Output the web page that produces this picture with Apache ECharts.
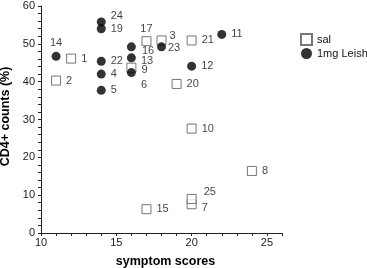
<!DOCTYPE html>
<html>
<head>
<meta charset="utf-8">
<script src="https://cdn.jsdelivr.net/npm/echarts@6/dist/echarts.min.js"></script>
<style>
  html, body { margin: 0; padding: 0; background: #fff; }
  #chart { width: 367px; height: 268px; }
</style>
</head>
<body>
<div id="chart"></div>
<script>
// saline group (open squares)
var salIds = [1, 2, 3, 7, 8, 9, 10, 15, 17, 20, 21, 25]
var salX = [12, 11, 18, 20, 24, 16, 20, 17, 17, 19, 20, 20]
var salY = [46.1, 40.3, 50.9, 7.6, 16.4, 43.7, 27.6, 6.3, 50.7, 39.4, 50.9, 9.0]

// 1mg Leish group (filled circles)
var leishIds = [4, 5, 6, 11, 12, 13, 14, 16, 19, 22, 23, 24]
var leishX = [14, 14, 16, 22, 20, 16, 11, 16, 14, 14, 18, 14]
var leishY = [42.0, 37.7, 42.4, 52.5, 44.1, 46.3, 46.7, 49.2, 54.0, 45.4, 49.2, 55.8]

var seriesNames = ['sal', '1mg Leish']
var xTicks = [10, 15, 20, 25]
var yTicks = [0, 10, 20, 30, 40, 50, 60]

// label placement tweaks (style only)
var labelTweak = {
  3: { offset: [-2, -4] },
  6: { offset: [0, 12] },
  7: { offset: [0, 4] },
  9: { offset: [0, 2] },
  13: { offset: [0, 3] },
  14: { position: 'top', distance: 3 },
  16: { offset: [1, 4] },
  17: { position: 'top', distance: 2 },
  23: { offset: [-3, 1] },
  24: { offset: [0, -6] },
  25: { offset: [2, -7] }
}

function buildPoints(ids, xs, ys) {
  return ids.map(function (id, i) {
    var p = { value: [xs[i], ys[i]], name: String(id) }
    if (labelTweak[id]) p.label = labelTweak[id]
    return p
  })
}

var font = 'Liberation Sans, Arial, sans-serif'
var chart = echarts.init(document.getElementById('chart'))

chart.setOption({
  animation: false,
  textStyle: { fontFamily: font },
  grid: { left: 41, right: 85, top: 6, bottom: 35, containLabel: false, outerBoundsMode: 'none' },
  legend: {
    orient: 'vertical',
    left: 300,
    top: 33,
    padding: 0,
    itemWidth: 11,
    itemHeight: 11,
    itemGap: 2,
    textStyle: { fontSize: 11, color: '#111', fontFamily: font },
    data: [
      { name: seriesNames[0], icon: 'rect' },
      { name: seriesNames[1], icon: 'circle' }
    ]
  },
  xAxis: {
    type: 'value',
    min: 10,
    max: 26,
    interval: 1,
    name: 'symptom scores',
    nameLocation: 'middle',
    nameGap: 22,
    nameTextStyle: { fontSize: 12.5, fontWeight: 'bold', color: '#000', fontFamily: font, padding: [0, 0, 0, 8] },
    axisLine: { lineStyle: { color: '#222', width: 1 } },
    axisTick: { length: 3, lineStyle: { color: '#222' } },
    axisLabel: {
      fontSize: 11,
      color: '#222',
      margin: 4,
      formatter: function (v) { return xTicks.indexOf(v) >= 0 ? String(v) : '' }
    },
    splitLine: { show: false }
  },
  yAxis: {
    type: 'value',
    min: 0,
    max: 60,
    interval: 2,
    name: 'CD4+ counts (%)',
    nameLocation: 'middle',
    nameGap: 26,
    nameTextStyle: { fontSize: 12.5, fontWeight: 'bold', color: '#000', fontFamily: font, padding: [0, 0, 0, 6] },
    axisLine: { show: true, lineStyle: { color: '#222', width: 1 } },
    axisTick: { show: true, length: 3, lineStyle: { color: '#222' } },
    axisLabel: {
      fontSize: 11,
      color: '#222',
      margin: 6,
      formatter: function (v) { return yTicks.indexOf(v) >= 0 ? String(v) : '' }
    },
    splitLine: { show: false }
  },
  series: [
    {
      name: seriesNames[0],
      type: 'scatter',
      symbol: 'rect',
      symbolSize: 9,
      itemStyle: { color: '#fff', borderColor: '#555', borderWidth: 1 },
      label: {
        show: true,
        position: 'right',
        distance: 5,
        fontSize: 11,
        color: '#111',
        formatter: '{b}'
      },
      data: buildPoints(salIds, salX, salY)
    },
    {
      name: seriesNames[1],
      type: 'scatter',
      symbol: 'circle',
      symbolSize: 9,
      itemStyle: { color: '#000' },
      label: {
        show: true,
        position: 'right',
        distance: 5,
        fontSize: 11,
        color: '#111',
        formatter: '{b}'
      },
      data: buildPoints(leishIds, leishX, leishY)
    }
  ]
})
</script>
</body>
</html>
